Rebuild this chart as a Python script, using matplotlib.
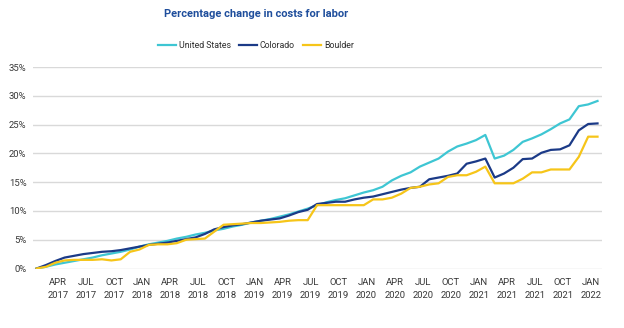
import matplotlib
matplotlib.use("Agg")
import matplotlib.pyplot as plt
import numpy as np

plt.rcParams['font.family'] = ['Roboto', 'DejaVu Sans']

# monthly cumulative % change, Jan 2017 .. Jan 2022
us = [0.0, 0.3, 0.7, 1.0, 1.3, 1.6, 1.9, 2.3, 2.6, 2.9,
      3.3, 3.8, 4.2, 4.5, 4.8, 5.2, 5.5, 5.9, 6.2, 6.6,
      6.9, 7.3, 7.6, 8.0, 8.3, 8.6, 9.0, 9.4, 9.9, 10.4,
      11.0, 11.5, 11.9, 12.2, 12.7, 13.2, 13.6, 14.2, 15.3, 16.1,
      16.7, 17.7, 18.4, 19.1, 20.3, 21.2, 21.7, 22.3, 23.2, 19.1,
      19.6, 20.6, 22.0, 22.6, 23.3, 24.2, 25.2, 25.9, 28.2, 28.5,
      29.1]
colorado = [0.0, 0.6, 1.3, 1.9, 2.2, 2.5, 2.7, 2.9, 3.0, 3.2,
            3.5, 3.8, 4.1, 4.3, 4.5, 4.8, 5.1, 5.4, 6.0, 6.8,
            7.2, 7.5, 7.7, 8.0, 8.3, 8.5, 8.7, 9.2, 9.8, 10.2,
            11.2, 11.4, 11.6, 11.6, 12.0, 12.3, 12.5, 12.9, 13.3, 13.7,
            14.0, 14.2, 15.5, 15.8, 16.1, 16.5, 18.2, 18.6, 19.1, 15.8,
            16.5, 17.5, 19.0, 19.1, 20.1, 20.6, 20.7, 21.4, 24.0, 25.1,
            25.2]
boulder = [0.0, 0.3, 1.0, 1.4, 1.5, 1.5, 1.5, 1.6, 1.4, 1.6,
           2.9, 3.3, 4.1, 4.2, 4.2, 4.4, 5.0, 5.1, 5.2, 6.4,
           7.6, 7.7, 7.8, 7.9, 7.9, 8.0, 8.1, 8.3, 8.4, 8.4,
           11.0, 11.0, 11.0, 11.0, 11.0, 11.0, 12.0, 12.0, 12.3, 13.0,
           14.0, 14.2, 14.6, 14.8, 15.9, 16.2, 16.2, 16.8, 17.7, 14.8,
           14.8, 14.8, 15.6, 16.7, 16.7, 17.2, 17.2, 17.2, 19.4, 22.9,
           22.9]

quarters = ['APR', 'JUL', 'OCT', 'JAN']
tick_labels = []
for k in range(20):
    q = quarters[k % 4]
    year = 2017 + (k + 1) // 4
    tick_labels.append(f'{q}\n{year}')

series = [('United States', us, '#3ec6d3'),
          ('Colorado', colorado, '#1b3a87'),
          ('Boulder', boulder, '#f6c519')]

fig = plt.figure(figsize=(6.24, 3.28), dpi=100)
ax = fig.add_axes([0.0534, 0.1814, 0.9109, 0.6143])

months = np.arange(len(us))
for name, vals, col in series:
    ax.plot(months, vals, color=col, lw=1.6, label=name)

ax.set_xlim(-0.35, 60.45)
ax.set_ylim(0, 35)
ax.set_yticks(np.arange(0, 36, 5))
ax.set_yticklabels([f'{v}%' for v in range(0, 36, 5)])
ax.set_xticks(np.arange(3, 61, 3) - 0.7)
ax.set_xticklabels(tick_labels, linespacing=1.6)
ax.grid(axis='y', color='#d9d9d9', lw=1)
ax.set_axisbelow(True)
for s in ax.spines.values():
    s.set_visible(False)
ax.tick_params(length=0, labelsize=6.8, colors='#383838')
ax.tick_params(axis='x', pad=7)
ax.tick_params(axis='y', pad=5)

fig.text(0.41, 0.957, 'Percentage change in costs for labor', ha='center', va='center',
         fontsize=8.0, fontweight='bold', color='#1f4e9c')
fig.legend(loc='center', bbox_to_anchor=(0.41, 0.86), ncol=3, frameon=False,
           fontsize=6.3, handlelength=2.1, handletextpad=0.3, columnspacing=0.9,
           labelcolor='#2e2e2e')

fig.savefig('out.png', dpi=100)
